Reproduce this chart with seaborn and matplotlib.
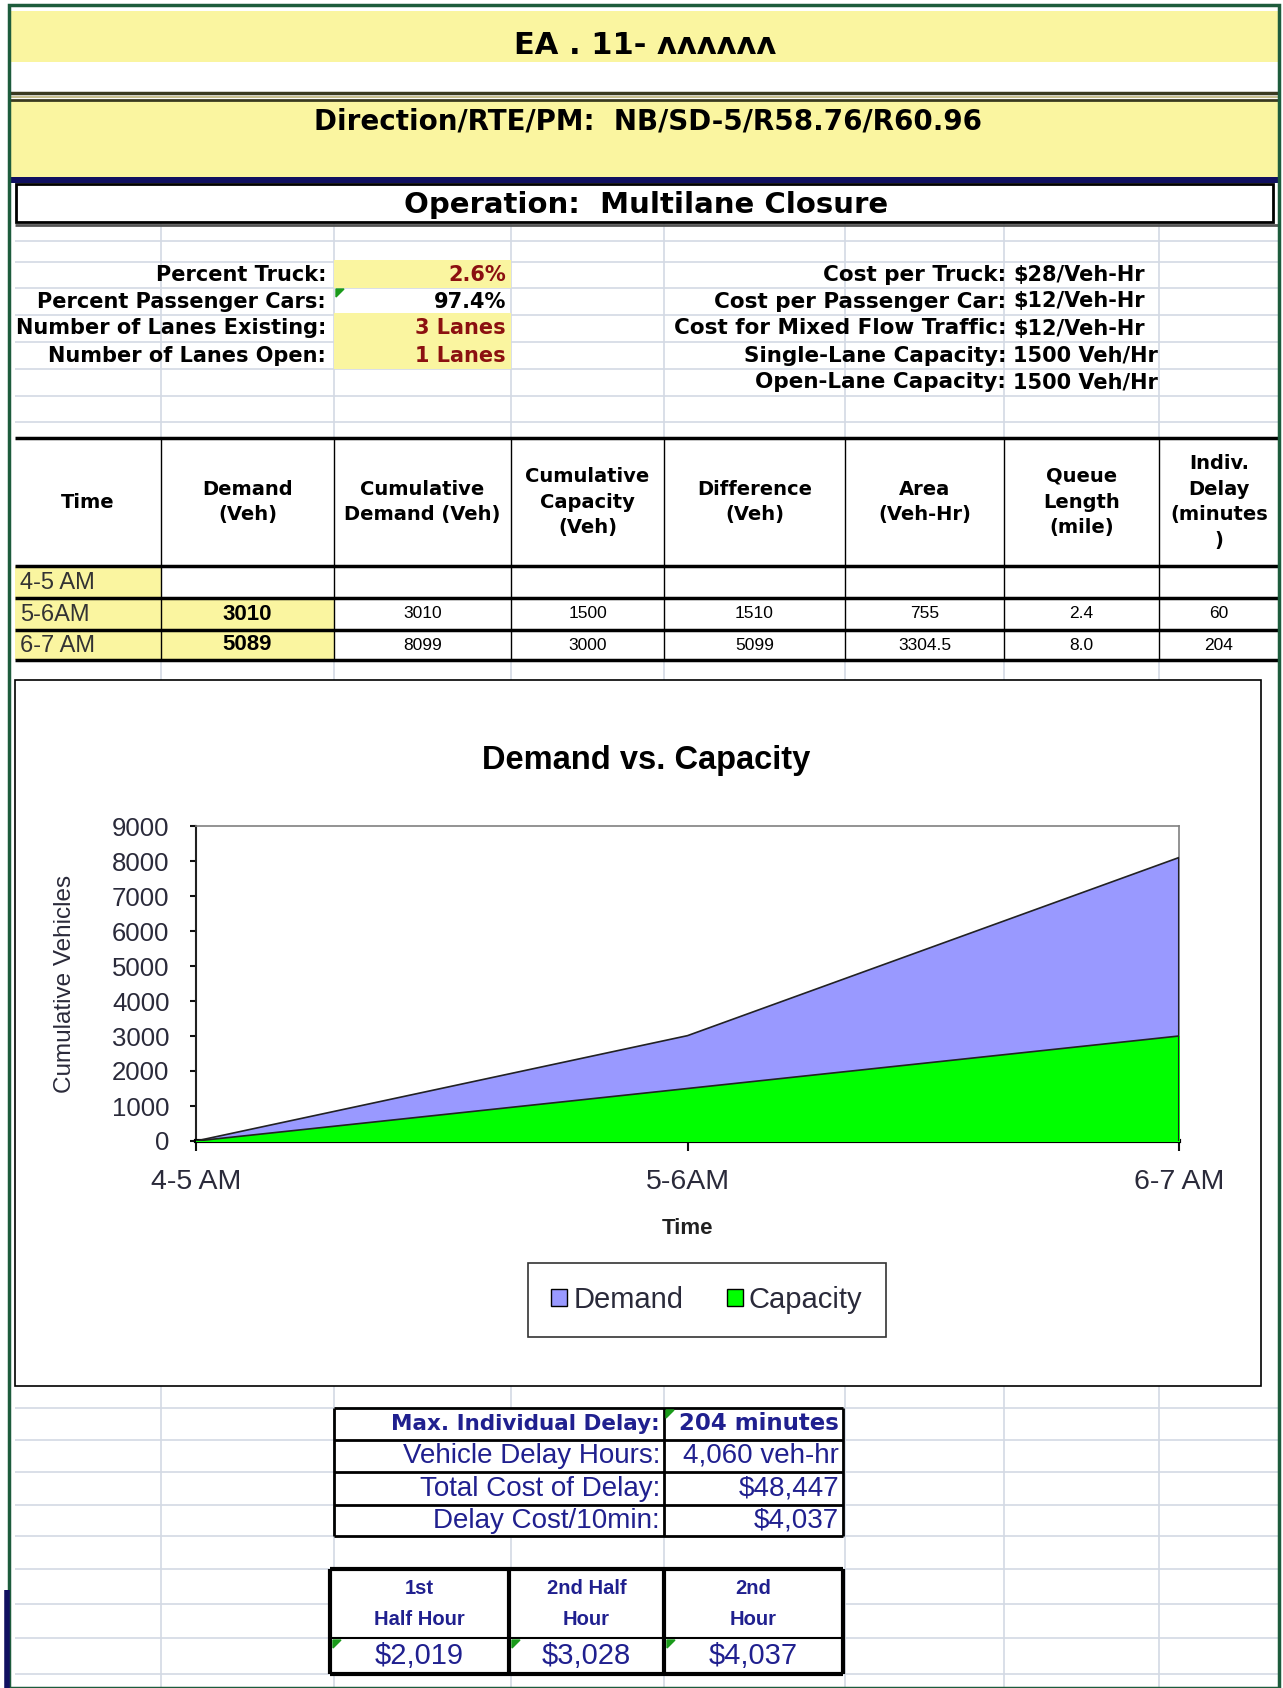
import numpy as np
import pandas as pd
import seaborn as sns
import matplotlib.pyplot as plt
from matplotlib.patches import Rectangle, Polygon, Patch

# chart data (cumulative vehicles per time slot)
times = ["4-5 AM", "5-6AM", "6-7 AM"]
cum_demand = [0, 3010, 8099]
cum_capacity = [0, 1500, 3000]

# table contents
demand_col = ["", "3010", "5089"]
cum_demand_col = ["", "3010", "8099"]
cum_capacity_col = ["", "1500", "3000"]
difference_col = ["", "1510", "5099"]
area_col = ["", "755", "3304.5"]
queue_col = ["", "2.4", "8.0"]
delay_col = ["", "60", "204"]
headers = ["Time", "Demand\n(Veh)", "Cumulative\nDemand (Veh)", "Cumulative\nCapacity\n(Veh)",
           "Difference\n(Veh)", "Area\n(Veh-Hr)", "Queue\nLength\n(mile)", "Indiv.\nDelay\n(minutes\n)"]

info_left = ["Percent Truck:", "Percent Passenger Cars:", "Number of Lanes Existing:", "Number of Lanes Open:"]
info_left_vals = ["2.6%", "97.4%", "3 Lanes", "1 Lanes"]
info_right = ["Cost per Truck:", "Cost per Passenger Car:", "Cost for Mixed Flow Traffic:",
              "Single-Lane Capacity:", "Open-Lane Capacity:"]
info_right_vals = ["$28/Veh-Hr", "$12/Veh-Hr", "$12/Veh-Hr", "1500 Veh/Hr", "1500 Veh/Hr"]

summary_labels = ["Max. Individual Delay:", "Vehicle Delay Hours:", "Total Cost of Delay:", "Delay Cost/10min:"]
summary_vals = ["204 minutes", "4,060 veh-hr", "$48,447", "$4,037"]
period_heads = ["1st\nHalf Hour", "2nd Half\nHour", "2nd\nHour"]
period_costs = ["$2,019", "$3,028", "$4,037"]

FONT = ["Liberation Sans", "DejaVu Sans"]
WIDE = ["DejaVu Sans"]

sns.set_theme(style="white")
plt.rcParams["font.family"] = FONT

YELLOW = "#faf5a0"
GRID = "#d3d9e4"
NAVY = "#20208f"
RED = "#8b1010"

fig = plt.figure(figsize=(12.83, 16.88), dpi=100)
bg = fig.add_axes([0, 0, 1, 1])
bg.set_xlim(0, 1283)
bg.set_ylim(1688, 0)
bg.axis("off")


def rect(x0, y0, x1, y1, fc="none", ec="none", lw=1, z=2):
    bg.add_patch(Rectangle((x0, y0), x1 - x0, y1 - y0, facecolor=fc, edgecolor=ec, linewidth=lw, zorder=z))


def hline(y, x0, x1, c="black", lw=1, z=3):
    bg.plot([x0, x1], [y, y], color=c, lw=lw, zorder=z, solid_capstyle="butt")


def vline(x, y0, y1, c="black", lw=1, z=3):
    bg.plot([x, x], [y0, y1], color=c, lw=lw, zorder=z, solid_capstyle="butt")


def txt(x, y, s, ha="center", size=13, weight="normal", color="black", family=FONT, ls=1.2):
    bg.text(x, y, s, ha=ha, va="center", fontsize=size, fontweight=weight, color=color,
            family=family, linespacing=ls, zorder=6)


def flag(x, y):
    bg.add_patch(Polygon([[x, y], [x + 8, y], [x, y + 8]], closed=True, color="#1a9a1a", zorder=7))


# spreadsheet gridlines
cols = [15, 161, 334, 511, 664, 845, 1004, 1159, 1279]
for x in cols[1:-1]:
    vline(x, 223, 1688, GRID, 1.2, 1)
for y in [241, 262, 288, 315, 342, 369, 396, 422]:
    hline(y, 15, 1279, GRID, 1.2, 1)
for y in [1408, 1440, 1472, 1505, 1536, 1569, 1604, 1638, 1674]:
    hline(y, 15, 1279, GRID, 1.2, 1)

# heading bands
rect(10, 11, 1279, 62, fc=YELLOW, z=2)
txt(645, 46, "EA . 11- ʌʌʌʌʌʌ", size=22, weight="bold", family=WIDE)
hline(93, 10, 1279, "#3a3a20", 2.5)
hline(97, 10, 1279, "#c8c090", 1.5)
hline(100, 10, 1279, "#3a3a20", 2)
rect(10, 101, 1279, 178, fc=YELLOW, z=2)
txt(648, 122, "Direction/RTE/PM:  NB/SD-5/R58.76/R60.96", size=20, weight="bold", family=WIDE)
rect(10, 177, 1279, 183, fc="#101060", z=3)
rect(16, 184, 1273, 222, fc="white", ec="black", lw=2, z=3)
hline(225, 15, 1279, "#555555", 2)
txt(646, 205, "Operation:  Multilane Closure", size=21, weight="bold", family=WIDE)

# info block
rows = [262, 288, 315, 342, 369, 396]
for i, (lab, val) in enumerate(zip(info_left, info_left_vals)):
    yc = (rows[i] + rows[i + 1]) / 2
    if i != 1:
        rect(334, rows[i] - 2, 511, rows[i + 1], fc=YELLOW, z=2)
    txt(326, yc, lab, ha="right", size=15, weight="bold", family=WIDE)
    txt(506, yc, val, ha="right", size=15, weight="bold", color="black" if i == 1 else RED, family=WIDE)
flag(336, 289)
for i, (lab, val) in enumerate(zip(info_right, info_right_vals)):
    yc = (rows[i] + rows[i + 1]) / 2
    txt(1006, yc, lab, ha="right", size=15.5, weight="bold", family=WIDE)
    txt(1013, yc, val, ha="left", size=15, weight="bold", family=WIDE)

# results table
rect(15, 438, 1279, 660, fc="white", z=2)
row_lines = [438, 566, 598, 630, 660]
rect(15, 566, 161, 660, fc=YELLOW, z=2)
rect(161, 598, 334, 660, fc=YELLOW, z=2)
for y in row_lines:
    hline(y, 15, 1279, "black", 2.5)
for x in cols[1:-1]:
    vline(x, 438, 660, "black", 1)
for j, h in enumerate(headers):
    txt((cols[j] + cols[j + 1]) / 2, 502, h, size=14, weight="bold", family=WIDE, ls=1.45)
table_cols = [demand_col, cum_demand_col, cum_capacity_col, difference_col, area_col, queue_col, delay_col]
for r in range(3):
    yc = (row_lines[r + 1] + row_lines[r + 2]) / 2
    txt(20, yc + 1, times[r], ha="left", size=17, color="#333333")
    for j, col in enumerate(table_cols):
        txt((cols[j + 1] + cols[j + 2]) / 2, yc, col[r], size=16 if j == 0 else 12.5,
            weight="bold" if j == 0 else "normal")

# chart container
rect(15, 680, 1261, 1386, fc="white", ec="black", lw=1.2, z=4)
txt(646, 760, "Demand vs. Capacity", size=23.5, weight="bold")

ax = fig.add_axes([196 / 1283, 1 - 1141 / 1688, 983 / 1283, 315 / 1688])
ax.set_zorder(5)
df = pd.DataFrame({"x": np.arange(len(times)), "Demand": cum_demand, "Capacity": cum_capacity})
ax.fill_between(df["x"], df["Demand"], color="#9999ff", zorder=2)
ax.fill_between(df["x"], df["Capacity"], color="#00ff00", zorder=3)
sns.lineplot(data=df, x="x", y="Demand", color="#222222", lw=1.2, ax=ax, zorder=4)
sns.lineplot(data=df, x="x", y="Capacity", color="#222222", lw=1.2, ax=ax, zorder=4)
ax.plot([2, 2], [0, cum_demand[-1]], color="#222222", lw=1.5, zorder=4)
ax.set_xlim(0, 2)
ax.set_ylim(0, 9000)
ax.set_yticks(range(0, 9001, 1000))
ax.set_xticks(df["x"])
ax.set_xticklabels(times)
ax.tick_params(axis="y", labelsize=18.5, length=4, width=1.5, direction="out", left=True, pad=15,
               colors="#111111", labelcolor="#2a2a3a")
ax.tick_params(axis="x", labelsize=20.5, length=7, width=1.5, direction="out", bottom=True, pad=13,
               colors="#111111", labelcolor="#2a2a3a")
for s in ["top", "right"]:
    ax.spines[s].set_color("#808080")
    ax.spines[s].set_linewidth(1.2)
ax.spines["left"].set_color("#222222")
ax.spines["left"].set_linewidth(1.5)
ax.spines["bottom"].set_color("black")
ax.spines["bottom"].set_linewidth(3)
ax.set_xlabel("Time", fontsize=16, fontweight="bold", labelpad=17, color="#222222")
ax.set_ylabel("Cumulative Vehicles", fontsize=17.5, labelpad=26, color="#2a2a3a")
ax.set_facecolor("white")
ax.grid(False)
handles = [Patch(facecolor="#9999ff", edgecolor="black", label="Demand"),
           Patch(facecolor="#00ff00", edgecolor="black", label="Capacity")]
leg = ax.legend(handles=handles, loc="center", bbox_to_anchor=(707 / 1283, 1 - 1300 / 1688),
                bbox_transform=fig.transFigure, ncol=2, fontsize=21, frameon=True, fancybox=False,
                handlelength=0.55, handleheight=0.55, handletextpad=0.2, columnspacing=1.5,
                borderpad=0.8, edgecolor="black", labelcolor="#2a2a3a")
leg.get_frame().set_linewidth(1.2)

# summary table
srows = [1408, 1440, 1472, 1505, 1536]
rect(334, 1408, 843, 1536, fc="white", z=2)
for y in srows:
    hline(y, 334, 843, "black", 2)
for x in [334, 664, 843]:
    vline(x, 1408, 1536, "black", 2)
for i, (lab, val) in enumerate(zip(summary_labels, summary_vals)):
    yc = (srows[i] + srows[i + 1]) / 2
    if i == 0:
        txt(660, yc, lab, ha="right", size=15.5, weight="bold", color=NAVY, family=WIDE)
        txt(839, yc, val, ha="right", size=16.5, weight="bold", color=NAVY, family=WIDE)
    else:
        txt(660, yc, lab, ha="right", size=20, color=NAVY)
        txt(839, yc, val, ha="right", size=20, color=NAVY)
flag(666, 1410)

# half-hour cost table
pcols = [330, 509, 664, 843]
rect(330, 1569, 843, 1674, fc="white", z=2)
for x in pcols:
    vline(x, 1569, 1674, "black", 3)
hline(1569, 330, 843, "black", 3)
hline(1674, 330, 843, "black", 3)
hline(1638, 330, 843, "black", 1.5)
for j in range(3):
    xc = (pcols[j] + pcols[j + 1]) / 2
    txt(xc, 1604, period_heads[j], size=14.5, weight="bold", color=NAVY, ls=1.8)
    txt(xc, 1656, period_costs[j], size=21, color=NAVY)
    flag(pcols[j] + 3, 1640)

# outer frame
rect(9, 5, 1279, 1688, ec="#1d5c3c", lw=2.5, z=8)
vline(7, 1590, 1688, "#101060", 4, 8)

fig.savefig("out.png", dpi=100)
